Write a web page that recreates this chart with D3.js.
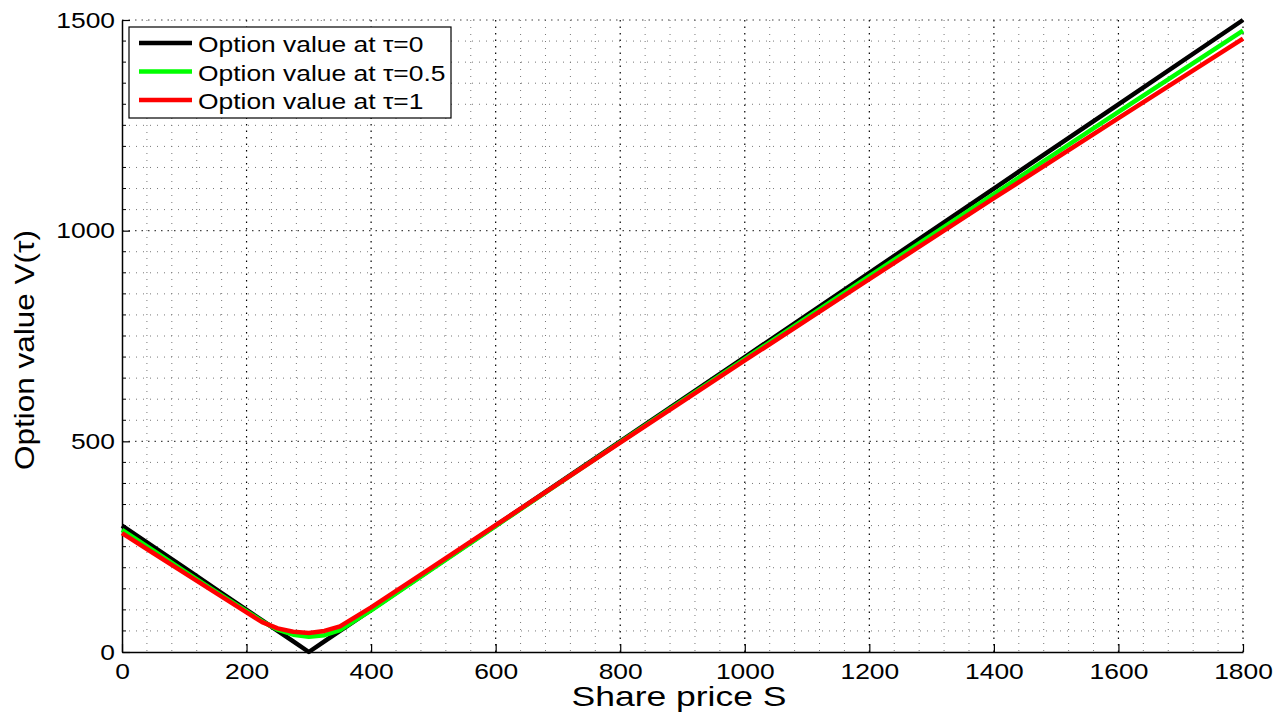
<!DOCTYPE html>
<html>
<head>
<meta charset="utf-8">
<script src="https://cdn.jsdelivr.net/npm/d3@7"></script>
<style>
  body { margin: 0; background: #fff; }
  text { font-family: "Liberation Sans", Arial, sans-serif; fill: #000; }
</style>
</head>
<body>
<svg id="chart"></svg>
<script>
// share price grid and option values
var shares = [0, 50, 100, 150, 200, 225, 250, 275, 300, 325, 350, 400, 500, 600, 800, 1000, 1200, 1400, 1600, 1800];
var valueTau0 = [300, 250, 200, 150, 100, 75, 50, 25, 0, 25, 50, 100, 200, 300, 500, 700, 900, 1100, 1300, 1500];
var valueTau05 = [290, 241, 192, 144, 97, 73, 53, 41, 36, 40, 52, 99, 199, 299, 498, 696, 892, 1087, 1282, 1475];
var valueTau1 = [282, 235, 188, 141, 94, 71, 56, 48, 45, 50, 61, 106, 203, 301, 497, 692, 885, 1077, 1267, 1456];

var seriesNames = ["Option value at \u03c4=0", "Option value at \u03c4=0.5", "Option value at \u03c4=1"];
var seriesColors = ["#000000", "#00ff00", "#ff0000"];
var xTicks = [0, 200, 400, 600, 800, 1000, 1200, 1400, 1600, 1800];
var yTicks = [0, 500, 1000, 1500];

var svgWidth = 1277, svgHeight = 713;
var plotLeft = 122, plotRight = 1243, plotTop = 20, plotBottom = 652;

var svg = d3.select('#chart')
    .attr("width", svgWidth)
    .attr("height", svgHeight);

var x = d3.scaleLinear().domain([0, 1800]).range([plotLeft, plotRight]);
var y = d3.scaleLinear().domain([0, 1500]).range([plotBottom, plotTop]);

// stretch text horizontally like the original render
function stretch(sel, k) {
    sel.each(function() {
        var w = this.getComputedTextLength();
        d3.select(this).attr("textLength", w * k).attr("lengthAdjust", "spacingAndGlyphs");
    });
}
function fitTo(sel, w) {
    sel.attr("textLength", w).attr("lengthAdjust", "spacingAndGlyphs");
}

// grid
var grid = svg.append("g");
var xMinor = d3.range(0, 1801, 40).filter(function(d) { return d % 200 !== 0; });
var yMinor = d3.range(0, 1501, 50).filter(function(d) { return d % 500 !== 0; });

grid.selectAll(".xminor").data(xMinor).enter().append("line")
    .attr("x1", function(d) { return x(d); }).attr("x2", function(d) { return x(d); })
    .attr("y1", plotTop).attr("y2", plotBottom)
    .attr("stroke", "#777").attr("stroke-width", 1).attr("stroke-dasharray", "1,6");
grid.selectAll(".yminor").data(yMinor).enter().append("line")
    .attr("y1", function(d) { return y(d); }).attr("y2", function(d) { return y(d); })
    .attr("x1", plotLeft).attr("x2", plotRight)
    .attr("stroke", "#777").attr("stroke-width", 1).attr("stroke-dasharray", "1,6");
grid.selectAll(".xmajor").data(xTicks.slice(1)).enter().append("line")
    .attr("x1", function(d) { return x(d); }).attr("x2", function(d) { return x(d); })
    .attr("y1", plotTop).attr("y2", plotBottom)
    .attr("stroke", "#000").attr("stroke-width", 1.2).attr("stroke-dasharray", "1.5,5");
grid.selectAll(".ymajor").data(yTicks.slice(1)).enter().append("line")
    .attr("y1", function(d) { return y(d); }).attr("y2", function(d) { return y(d); })
    .attr("x1", plotLeft).attr("x2", plotRight)
    .attr("stroke", "#444").attr("stroke-width", 1.2).attr("stroke-dasharray", "1.5,5");

// axes
var xAxis = svg.append("g").attr("transform", "translate(0," + plotBottom + ")")
    .call(d3.axisBottom(x).tickValues(xTicks).tickFormat(d3.format("d"))
        .tickSizeInner(-8).tickSizeOuter(0).tickPadding(14));
var yAxis = svg.append("g").attr("transform", "translate(" + plotLeft + ",0)")
    .call(d3.axisLeft(y).tickValues(yTicks).tickFormat(d3.format("d"))
        .tickSizeInner(-8).tickSizeOuter(0).tickPadding(14));
[xAxis, yAxis].forEach(function(a) {
    a.select(".domain").attr("stroke", "#000").attr("stroke-width", 1.5);
    a.selectAll(".tick line").attr("stroke", "#000").attr("stroke-width", 1.2);
    a.selectAll("text").attr("font-size", 22).attr("font-family", "Liberation Sans, Arial, sans-serif").attr("fill", "#000");
});
xAxis.selectAll("text").attr("dy", "0.78em").attr("y", 10);
yAxis.selectAll("text").attr("x", -7);
yAxis.selectAll(".minor").data(yMinor).enter().append("line")
    .attr("x1", 0).attr("x2", 4)
    .attr("y1", function(d) { return y(d); }).attr("y2", function(d) { return y(d); })
    .attr("stroke", "#000").attr("stroke-width", 1);
stretch(xAxis.selectAll("text"), 1.2);
stretch(yAxis.selectAll("text"), 1.2);

// curves
var series = [valueTau0, valueTau05, valueTau1];
var line = d3.line()
    .x(function(d, i) { return x(shares[i]); })
    .y(function(d) { return y(d); });

svg.selectAll(".curve").data(series).enter().append("path")
    .attr("class", "curve")
    .attr("d", line)
    .attr("fill", "none")
    .attr("stroke", function(d, i) { return seriesColors[i]; })
    .attr("stroke-width", 4.5)
    .attr("stroke-linejoin", "round");

// axis labels
svg.append("text")
    .attr("x", 679).attr("y", 706)
    .attr("text-anchor", "middle")
    .attr("font-size", 28)
    .text("Share price S")
    .call(fitTo, 215);

svg.append("text")
    .attr("transform", "translate(34,350) rotate(-90)")
    .attr("text-anchor", "middle")
    .attr("font-size", 28)
    .text("Option value V(\u03c4)")
    .call(fitTo, 240);

// legend
var legend = svg.append("g");
legend.append("rect")
    .attr("x", 129).attr("y", 27).attr("width", 322).attr("height", 91)
    .attr("fill", "#fff").attr("stroke", "#000").attr("stroke-width", 1.2);
var rows = legend.selectAll(".row").data(seriesNames).enter().append("g")
    .attr("transform", function(d, i) { return "translate(0," + (43 + i * 28.5) + ")"; });
rows.append("line")
    .attr("x1", 139).attr("x2", 192)
    .attr("stroke", function(d, i) { return seriesColors[i]; })
    .attr("stroke-width", 4.5);
var legendText = rows.append("text")
    .attr("x", 198).attr("y", 9)
    .attr("font-size", 22)
    .text(function(d) { return d; });
stretch(legendText, 1.2);
</script>
</body>
</html>
